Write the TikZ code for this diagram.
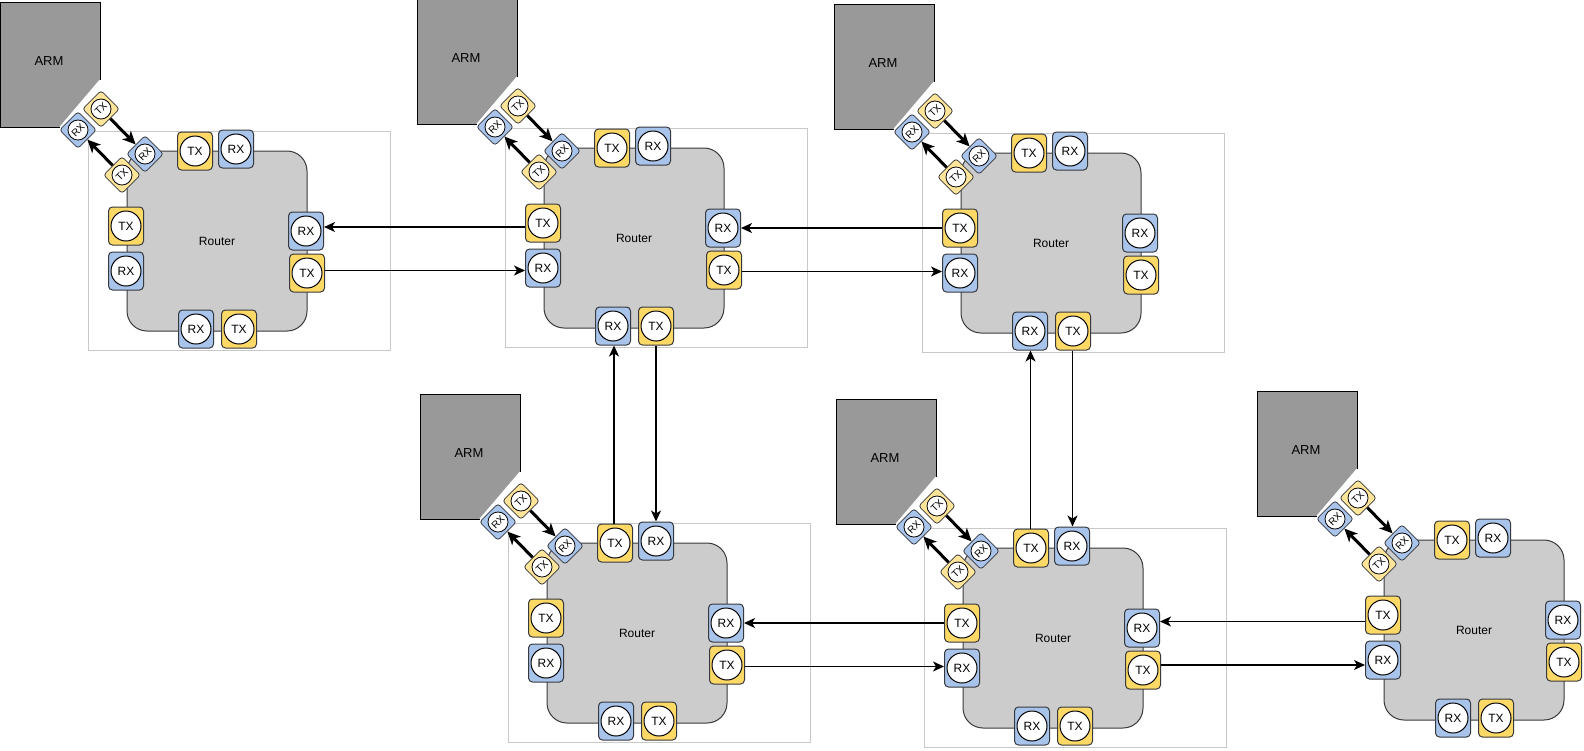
\documentclass[tikz,border=0pt]{standalone}
\usepackage{fontspec}
\setmainfont{Liberation Sans}
\usetikzlibrary{arrows.meta,calc}

\definecolor{routerfill}{HTML}{CCCCCC}
\definecolor{routerline}{HTML}{36393D}
\definecolor{armfill}{HTML}{999999}
\definecolor{txfill}{HTML}{FFD966}
\definecolor{txpale}{HTML}{FFE599}
\definecolor{rxfill}{HTML}{A9C4EB}
\definecolor{framegray}{HTML}{C8C8C8}

\tikzset{
  frame/.style={draw=framegray, line width=1pt},
  router/.style={draw=routerline, fill=routerfill, line width=1pt, rounded corners=20pt,
    minimum width=180pt, minimum height=180pt, font=\fontsize{12pt}{14pt}\selectfont},
  armlabel/.style={font=\fontsize{13pt}{15pt}\selectfont},
  port/.style={draw=routerline, line width=1pt, rounded corners=4pt, inner sep=0pt,
    minimum width=35pt, minimum height=38pt, font=\fontsize{12pt}{14pt}\selectfont,
    path picture={\draw[draw=black, fill=white] (path picture bounding box.center) circle (15pt);}},
  diag/.style={draw=routerline, line width=0.8pt, rounded corners=3pt, inner sep=0pt,
    minimum size=26pt, rotate=45, font=\fontsize{10pt}{10pt}\selectfont,
    path picture={\draw[draw=black, fill=white] (path picture bounding box.center) circle (10pt);}},
  txport/.style={port, fill=txfill},
  rxport/.style={port, fill=rxfill},
  txdiag/.style={diag, fill=txpale},
  rxdiag/.style={diag, fill=rxfill},
  link/.style={line width=1.5pt, -{Stealth[length=11pt, width=10pt, inset=3pt]}},
  armlink/.style={line width=3pt, -{Stealth[length=13pt, width=12pt, inset=3.5pt]}}
}

% straight link between two facing ports, at the middle of both
\newcommand{\hlink}[2]{\path ($(#1)!.5!(#2)$) coordinate (lmid);
  \draw[link] (#1 |- lmid) -- (#2 |- lmid);}
\newcommand{\vlink}[2]{\path ($(#1)!.5!(#2)$) coordinate (lmid);
  \draw[link] (#1 -| lmid) -- (#2 -| lmid);}

\begin{document}
\begin{tikzpicture}[x=1pt,y=-1pt]
\useasboundingbox (0,0) rectangle (1584,750);

\foreach \n/\x/\y in {1/127/151, 2/544/148, 3/961/153, 4/547/543, 5/963/548, 6/1384/540}{
  \begin{scope}[shift={(\x,\y)}]
    \ifnum\n<6 \draw[frame] (-39,-20) rectangle (263,199); \fi % tile frame

    % ARM block
    \fill[armfill] (-127,-149) -- (-27,-149) -- (-27,-71) -- (-67,-24) -- (-127,-24) -- cycle;
    \draw[line width=1pt] (-27,-71) -- (-27,-149) -- (-127,-149) -- (-127,-24) -- (-67,-24);
    \draw[white, line width=1pt] (-27,-71) -- (-67,-24);
    \node[armlabel] (arm\n) at (-78,-90) {ARM};

    \node[router] (r\n) at (90,90) {Router};

    \node[txport] (ntx\n) at (68,0) {TX};
    \node[rxport] (nrx\n) at (109,-2) {RX};
    \node[txport] (wtx\n) at (-1,75) {TX};
    \node[rxport] (wrx\n) at (-1,120) {RX};
    \node[rxport] (erx\n) at (179,80) {RX};
    \node[txport] (etx\n) at (180,122) {TX};
    \node[rxport] (srx\n) at (69,178) {RX};
    \node[txport] (stx\n) at (112,178) {TX};

    % ARM <-> router corner
    \node[rxdiag] (arx\n) at (-49,-21) {RX};
    \node[txdiag] (atx\n) at (-26,-42) {TX};
    \node[rxdiag] (crx\n) at (18,3) {RX};
    \node[txdiag] (ctx\n) at (-5,24) {TX};
    \draw[armlink] (atx\n) -- (crx\n);
    \draw[armlink] (ctx\n) -- (arx\n);
  \end{scope}
}

% links between routers
\hlink{wtx2.west}{erx1.east}
\hlink{etx1.east}{wrx2.west}
\hlink{wtx3.west}{erx2.east}
\hlink{etx2.east}{wrx3.west}
\hlink{wtx5.west}{erx4.east}
\hlink{etx4.east}{wrx5.west}
\hlink{wtx6.west}{erx5.east}
\hlink{etx5.east}{wrx6.west}
\vlink{ntx4.north}{srx2.south}
\vlink{stx2.south}{nrx4.north}
\vlink{ntx5.north}{srx3.south}
\vlink{stx3.south}{nrx5.north}

\end{tikzpicture}
\end{document}
